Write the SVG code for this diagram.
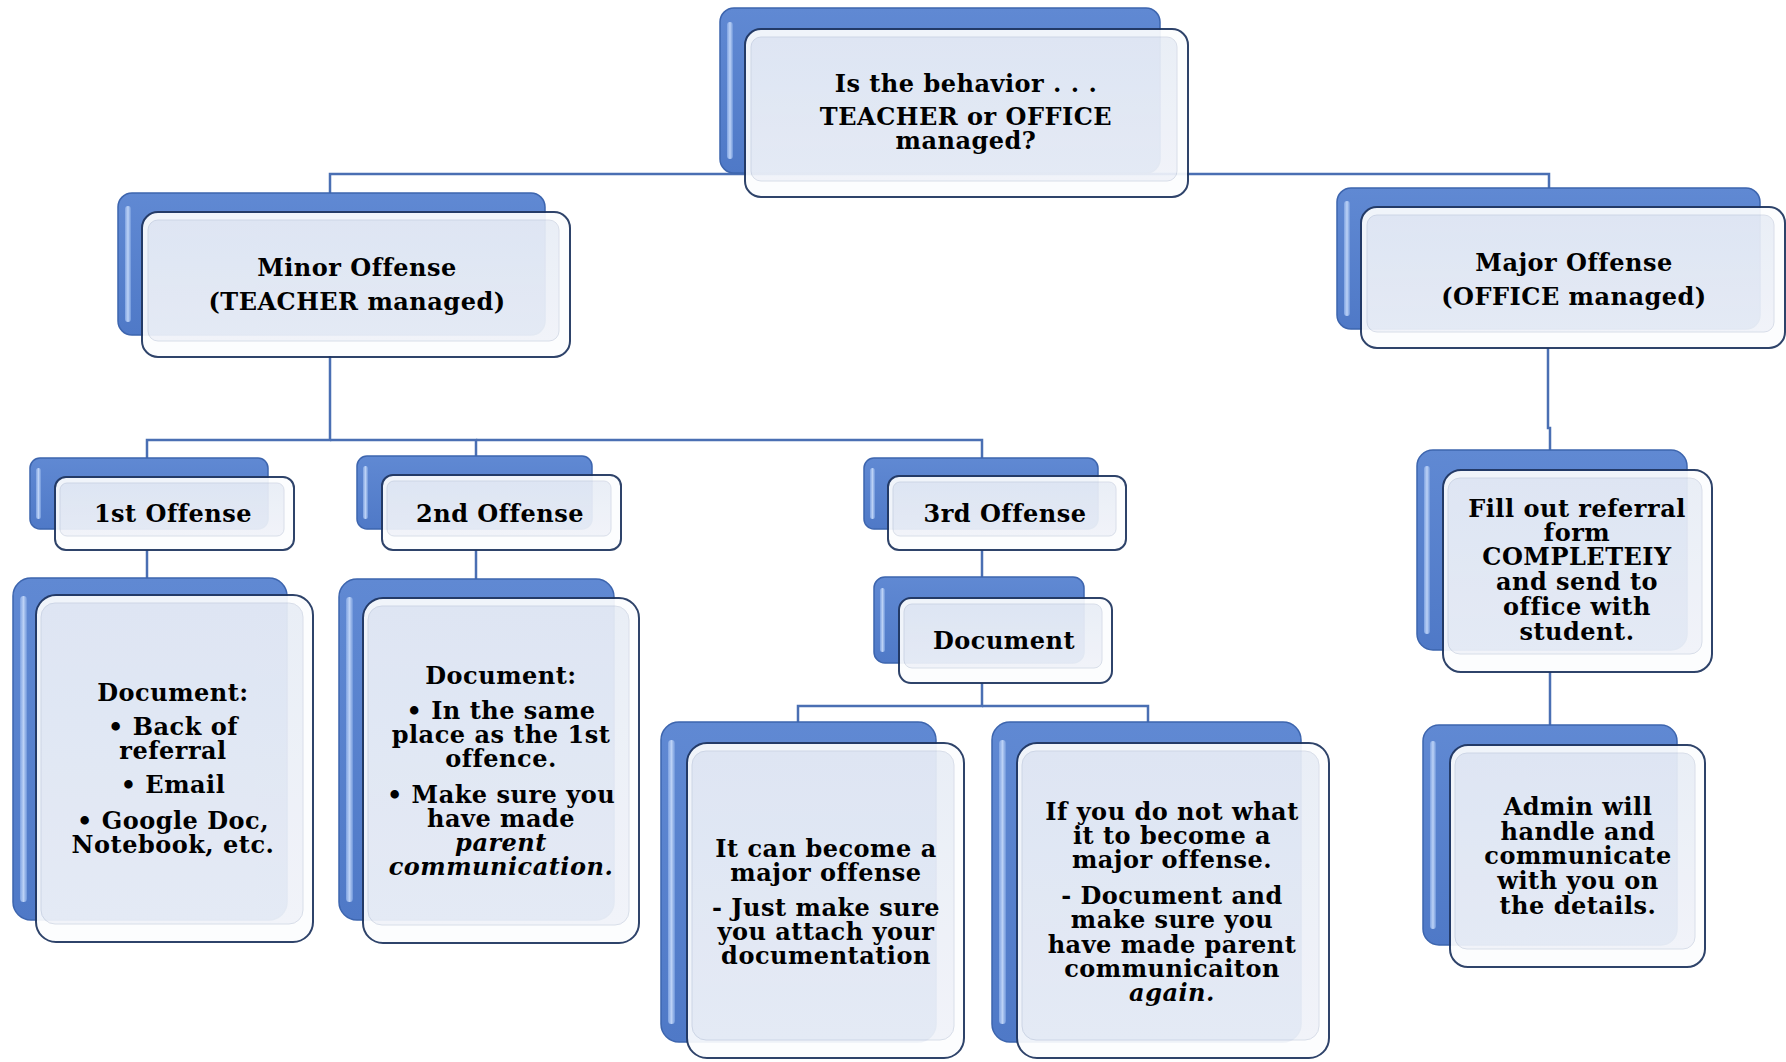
<svg xmlns="http://www.w3.org/2000/svg" width="1786" height="1062" viewBox="0 0 1786 1062">
<defs>
<linearGradient id="gBack" x1="0" y1="0" x2="0" y2="1">
<stop offset="0" stop-color="#6089d3"/>
<stop offset="1" stop-color="#4f79c7"/>
</linearGradient>
<linearGradient id="gHl" x1="0" y1="0" x2="1" y2="0">
<stop offset="0" stop-color="#7fa3e2"/>
<stop offset="0.5" stop-color="#bcd2f6"/>
<stop offset="1" stop-color="#6f96da"/>
</linearGradient>
<linearGradient id="gPanel" x1="0" y1="0" x2="0" y2="1">
<stop offset="0" stop-color="#e8edf6"/>
<stop offset="1" stop-color="#f0f3f9"/>
</linearGradient>
</defs>
<style>
.bk{fill:url(#gBack);stroke:#3d65ae;stroke-width:1.5}
.hl{fill:url(#gHl)}
.fo{fill:#fcfdfe;stroke:#1f355f;stroke-width:2}
.pn{fill:url(#gPanel);stroke:#d6dce8;stroke-width:1}
.cn{fill:none;stroke:#4a6fb3;stroke-width:2.5}
.t{font-family:"DejaVu Serif",serif;font-weight:bold;font-size:24px;letter-spacing:0.5px;text-anchor:middle;fill:#000}
.it{font-style:italic}
</style>
<g id="connectors">
<path class="cn" d="M330,194 V174 H1549 V189"/>
<path class="cn" d="M330,356 V440 H147 V458"/>
<path class="cn" d="M330,440 H476 V456"/>
<path class="cn" d="M476,440 H982 V458"/>
<path class="cn" d="M147,550 V578"/>
<path class="cn" d="M476,550 V579"/>
<path class="cn" d="M982,550 V577"/>
<path class="cn" d="M982,683 V706 H798 V722"/>
<path class="cn" d="M982,706 H1148 V722"/>
<path class="cn" d="M1548,348 V428 H1550 V450"/>
<path class="cn" d="M1550,672 V725"/>
</g>
<g id="n-top">
<rect class="bk" x="720" y="8" width="440" height="165" rx="14"/>
<rect class="hl" x="727" y="22" width="6" height="137" rx="3"/>
<g opacity="0.93"><rect class="fo" x="745" y="29" width="443" height="168" rx="16"/>
<rect class="pn" x="751" y="37" width="426" height="144" rx="10"/></g>
<text class="t"><tspan x="966" y="92">Is the behavior . . .</tspan><tspan x="966" y="125">TEACHER or OFFICE</tspan><tspan x="966" y="149">managed?</tspan></text>
</g>
<g id="n-minor">
<rect class="bk" x="118" y="193" width="427" height="142" rx="14"/>
<rect class="hl" x="125" y="206" width="6" height="116" rx="3"/>
<g opacity="0.93"><rect class="fo" x="142" y="212" width="428" height="145" rx="16"/>
<rect class="pn" x="148" y="220" width="411" height="121" rx="10"/></g>
<text class="t"><tspan x="357" y="276">Minor Offense</tspan><tspan x="357" y="310">(TEACHER managed)</tspan></text>
</g>
<g id="n-major">
<rect class="bk" x="1337" y="188" width="423" height="141" rx="14"/>
<rect class="hl" x="1344" y="201" width="6" height="115" rx="3"/>
<g opacity="0.93"><rect class="fo" x="1361" y="207" width="424" height="141" rx="16"/>
<rect class="pn" x="1367" y="215" width="407" height="117" rx="10"/></g>
<text class="t"><tspan x="1574" y="271">Major Offense</tspan><tspan x="1574" y="305">(OFFICE managed)</tspan></text>
</g>
<g id="n-first">
<rect class="bk" x="30" y="458" width="238" height="71" rx="10"/>
<rect class="hl" x="36" y="468" width="5" height="51" rx="2.5"/>
<g opacity="0.93"><rect class="fo" x="55" y="477" width="239" height="73" rx="11"/>
<rect class="pn" x="60" y="483" width="224" height="53" rx="7"/></g>
<text class="t" x="173" y="522">1st Offense</text>
</g>
<g id="n-second">
<rect class="bk" x="357" y="456" width="235" height="73" rx="10"/>
<rect class="hl" x="363" y="466" width="5" height="53" rx="2.5"/>
<g opacity="0.93"><rect class="fo" x="382" y="475" width="239" height="75" rx="11"/>
<rect class="pn" x="387" y="481" width="224" height="55" rx="7"/></g>
<text class="t" x="500" y="522">2nd Offense</text>
</g>
<g id="n-third">
<rect class="bk" x="864" y="458" width="234" height="71" rx="10"/>
<rect class="hl" x="870" y="468" width="5" height="51" rx="2.5"/>
<g opacity="0.93"><rect class="fo" x="888" y="476" width="238" height="74" rx="11"/>
<rect class="pn" x="893" y="482" width="223" height="54" rx="7"/></g>
<text class="t" x="1005" y="522">3rd Offense</text>
</g>
<g id="n-doc1">
<rect class="bk" x="13" y="578" width="274" height="342" rx="18"/>
<rect class="hl" x="20" y="596" width="7" height="306" rx="3.5"/>
<g opacity="0.93"><rect class="fo" x="36" y="595" width="277" height="347" rx="20"/>
<rect class="pn" x="41" y="603" width="262" height="321" rx="14"/></g>
<text class="t"><tspan x="173" y="701">Document:</tspan><tspan x="173" y="735">• Back of</tspan><tspan x="173" y="759">referral</tspan><tspan x="173" y="793">• Email</tspan><tspan x="173" y="829">• Google Doc,</tspan><tspan x="173" y="853">Notebook, etc.</tspan></text>
</g>
<g id="n-doc2">
<rect class="bk" x="339" y="579" width="275" height="341" rx="18"/>
<rect class="hl" x="346" y="597" width="7" height="305" rx="3.5"/>
<g opacity="0.93"><rect class="fo" x="363" y="598" width="276" height="345" rx="20"/>
<rect class="pn" x="368" y="606" width="261" height="319" rx="14"/></g>
<text class="t"><tspan x="501" y="684">Document:</tspan><tspan x="501" y="719">• In the same</tspan><tspan x="501" y="743">place as the 1st</tspan><tspan x="501" y="767">offence.</tspan><tspan x="501" y="803">• Make sure you</tspan><tspan x="501" y="827">have made</tspan><tspan class="it" x="501" y="851">parent</tspan><tspan class="it" x="501" y="875">communication.</tspan></text>
</g>
<g id="n-document">
<rect class="bk" x="874" y="577" width="210" height="86" rx="11"/>
<rect class="hl" x="880" y="588" width="5" height="64" rx="2.5"/>
<g opacity="0.93"><rect class="fo" x="899" y="598" width="213" height="85" rx="12"/>
<rect class="pn" x="904" y="604" width="198" height="64" rx="8"/></g>
<text class="t" x="1004" y="649">Document</text>
</g>
<g id="n-become">
<rect class="bk" x="661" y="722" width="275" height="320" rx="18"/>
<rect class="hl" x="668" y="740" width="7" height="284" rx="3.5"/>
<g opacity="0.93"><rect class="fo" x="687" y="743" width="277" height="315" rx="20"/>
<rect class="pn" x="692" y="751" width="262" height="289" rx="14"/></g>
<text class="t"><tspan x="826" y="857">It can become a</tspan><tspan x="826" y="881">major offense</tspan><tspan x="826" y="916">- Just make sure</tspan><tspan x="826" y="940">you attach your</tspan><tspan x="826" y="964">documentation</tspan></text>
</g>
<g id="n-notmajor">
<rect class="bk" x="992" y="722" width="309" height="320" rx="18"/>
<rect class="hl" x="999" y="740" width="7" height="284" rx="3.5"/>
<g opacity="0.93"><rect class="fo" x="1017" y="743" width="312" height="315" rx="20"/>
<rect class="pn" x="1022" y="751" width="297" height="289" rx="14"/></g>
<text class="t"><tspan x="1172" y="820">If you do not what</tspan><tspan x="1172" y="844">it to become a</tspan><tspan x="1172" y="868">major offense.</tspan><tspan x="1172" y="904">- Document and</tspan><tspan x="1172" y="928">make sure you</tspan><tspan x="1172" y="953">have made parent</tspan><tspan x="1172" y="977">communicaiton</tspan><tspan class="it" x="1172" y="1001">again.</tspan></text>
</g>
<g id="n-referral">
<rect class="bk" x="1417" y="450" width="270" height="200" rx="16"/>
<rect class="hl" x="1424" y="466" width="6" height="168" rx="3"/>
<g opacity="0.93"><rect class="fo" x="1443" y="470" width="269" height="202" rx="18"/>
<rect class="pn" x="1448" y="478" width="254" height="176" rx="12"/></g>
<text class="t"><tspan x="1577" y="517">Fill out referral</tspan><tspan x="1577" y="541">form</tspan><tspan x="1577" y="565">COMPLETEIY</tspan><tspan x="1577" y="590">and send to</tspan><tspan x="1577" y="615">office with</tspan><tspan x="1577" y="640">student.</tspan></text>
</g>
<g id="n-admin">
<rect class="bk" x="1423" y="725" width="254" height="220" rx="16"/>
<rect class="hl" x="1430" y="741" width="6" height="188" rx="3"/>
<g opacity="0.93"><rect class="fo" x="1450" y="745" width="255" height="222" rx="18"/>
<rect class="pn" x="1455" y="753" width="240" height="196" rx="12"/></g>
<text class="t"><tspan x="1578" y="815">Admin will</tspan><tspan x="1578" y="840">handle and</tspan><tspan x="1578" y="864">communicate</tspan><tspan x="1578" y="889">with you on</tspan><tspan x="1578" y="914">the details.</tspan></text>
</g>
</svg>
